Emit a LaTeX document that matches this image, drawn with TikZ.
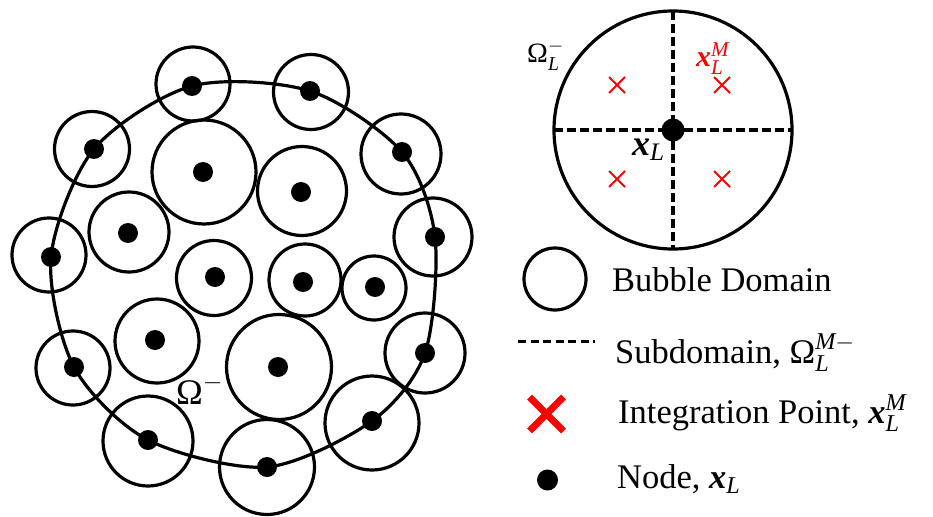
\RequirePackage{fix-cm}
\documentclass[tikz,border=0pt]{standalone}
\usepackage{amsmath}
\usepackage{fontspec}
\setmainfont{Liberation Serif}
\usetikzlibrary{shapes.misc, positioning}
\newcommand{\vecx}{\textbf{\textit{x}}}
\newcommand{\Om}{\textrm{Ω}}
\tikzset{
  dot/.style = {circle, fill=black, inner sep=0pt, outer sep=0pt, minimum size=20pt},
  bubble/.style = {circle, draw=black, line width=3.2pt, inner sep=0pt, outer sep=0pt, minimum size=#1},
  cross/.style = {cross out, draw=red, line width=2pt, inner sep=0pt, minimum size=14pt},
  boundary/.style = {line width=3.2pt},
  divide/.style = {line width=3.2pt, dash pattern=on 9pt off 4pt},
  keytext/.style = {anchor=base west, inner sep=0pt, font=\fontsize{34.5}{40}\selectfont},
  mathlbl/.style = {anchor=base west, inner sep=0pt, font=\fontsize{#1}{#1}\selectfont}
}
\begin{document}
\begin{tikzpicture}[x=1pt, y=-1pt]
\useasboundingbox (0,0) rectangle (933,516);

% Boundary nodes
\node[dot] (n1) at (192,86) {};
\node[dot] (n2) at (310,91) {};
\node[dot] (n3) at (402,152) {};
\node[dot] (n4) at (435,237) {};
\node[dot] (n5) at (425,353) {};
\node[dot] (n6) at (372,421) {};
\node[dot] (n7) at (267,467) {};
\node[dot] (n8) at (148,440) {};
\node[dot] (n9) at (74,367) {};
\node[dot] (n10) at (51,257) {};
\node[dot] (n11) at (94,149) {};

\node[bubble=74pt] (b1) at (193,84) {};
\node[bubble=75pt] (b2) at (311,92) {};
\node[bubble=80pt] (b3) at (401,154) {};
\node[bubble=78pt] (b4) at (433,237) {};
\node[bubble=80pt] (b5) at (425,353) {};
\node[bubble=94pt] (b6) at (372,423) {};
\node[bubble=95pt] (b7) at (267,467) {};
\node[bubble=90pt] (b8) at (148,441) {};
\node[bubble=74pt] (b9) at (73,368) {};
\node[bubble=74pt] (b10) at (49,255) {};
\node[bubble=75pt] (b11) at (92,149) {};

% Interior nodes
\node[dot] (n12) at (203,172) {};
\node[dot] (n13) at (301,192) {};
\node[dot] (n14) at (128,233) {};
\node[dot] (n15) at (215,277) {};
\node[dot] (n16) at (303,282) {};
\node[dot] (n17) at (375,287) {};
\node[dot] (n18) at (155,340) {};
\node[dot] (n19) at (278,367) {};

\node[bubble=104pt] (b12) at (204,172) {};
\node[bubble=89pt] (b13) at (302,191) {};
\node[bubble=80pt] (b14) at (129,232) {};
\node[bubble=75pt] (b15) at (214,278) {};
\node[bubble=72pt] (b16) at (305,280) {};
\node[bubble=64pt] (b17) at (374,288) {};
\node[bubble=84pt] (b18) at (157,341) {};
\node[bubble=105pt] (b19) at (279,367) {};

% Domain boundary
\draw[boundary] plot[smooth cycle] coordinates {(n1.center) (n2.center) (n3.center)
  (n4.center) (n5.center) (n6.center) (n7.center) (n8.center) (n9.center)
  (n10.center) (n11.center)};

\node[mathlbl=36] (dom) at (176,404) {$\Om^-$};

% Single bubble with subdomains
\node[bubble=238pt] (sub) at (673,130) {};
\draw[divide] (sub.west) -- (sub.east);
\draw[divide] (sub.north) -- (sub.south);
\node[dot, minimum size=23pt] (xl) at (sub) {};

\node[cross] (q1) at (617,85) {};
\node[cross] (q2) at (722,85) {};
\node[cross] (q3) at (617,179) {};
\node[cross] (q4) at (722,179) {};

\node[mathlbl=28] (lsub) at (527,63) {$\Om_{\textit{L}}^-$};
\node[mathlbl=30, text=red] (lquad) at (696,67) {$\vecx_{\textit{L}}^{\textit{M}}$};
\node[mathlbl=36] (lnode) at (632,155) {$\vecx_{\textit{L}}$};

% Legend
\node[bubble=62pt] (keybub) at (555,279) {};
\node[keytext] (txtbub) at (612,291) {Bubble Domain};

\coordinate (ks) at (518,341);
\coordinate (ke) at (595,341);
\draw[line width=3pt, dash pattern=on 8pt off 4.5pt] (ks) -- (ke);
\node[keytext] (txtsub) at (615,363) {Subdomain, $\Om_{\textit{L}}^{\textit{M}-}$};

\node[cross, line width=7pt, minimum size=27pt] (keyx) at (546.5,414) {};
\node[keytext] (txtint) at (618,423) {Integration Point, $\vecx_{\textit{L}}^{\textit{M}}$};

\node[dot, minimum size=21pt] (keydot) at (547.5,480) {};
\node[keytext] (txtdot) at (617,488) {Node, $\vecx_{\textit{L}}$};

\end{tikzpicture}
\end{document}
